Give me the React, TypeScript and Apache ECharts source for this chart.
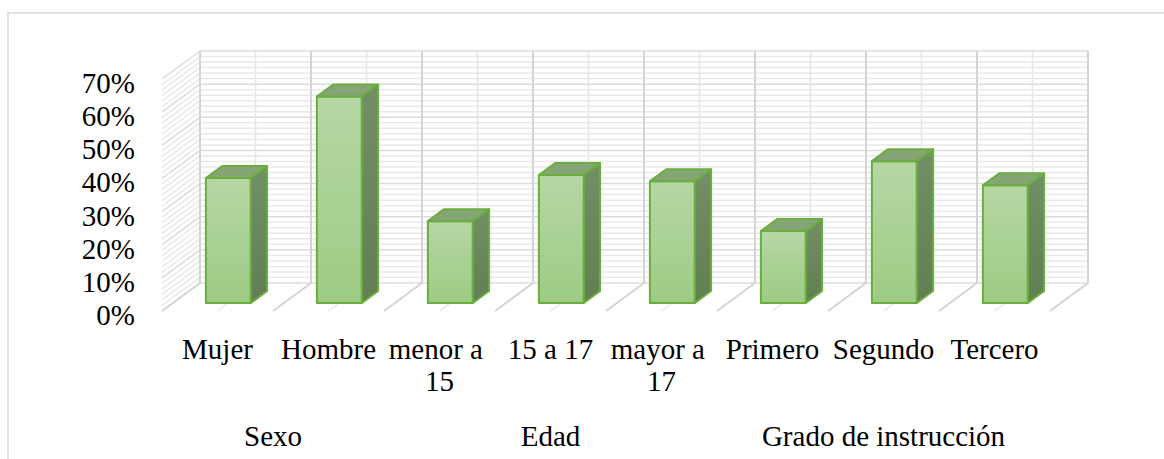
import { useEffect, useRef } from "react";
import * as echarts from "echarts";

const categories = ["Mujer", "Hombre", "menor a 15", "15 a 17", "mayor a 17", "Primero", "Segundo", "Tercero"];
const values = [0.377, 0.623, 0.247, 0.386, 0.367, 0.217, 0.428, 0.355];
const groupNames = ["Sexo", "Edad", "Grado de instrucción"];
const groupStart = [0, 2, 5];
const groupEnd = [1, 4, 7];
const Y_MIN = 0;
const Y_MAX = 0.7;
const Y_STEP = 0.1;
const MINOR_PER_MAJOR = 6;

const FONT = "Liberation Serif";
const DEPTH_X = 38;
const DEPTH_Y = -28;
const FLOOR_DY = -4;
const BAR_D1 = 0.286;
const BAR_D2 = 0.714;
const BAR_W = 0.405;

export default function App() {
  const ref = useRef<HTMLDivElement>(null);
  useEffect(() => {
    document.body.style.margin = "0";
    const chart = echarts.init(ref.current!, undefined, { renderer: "svg" });
    const proj = (x: number, y: number, d: number) => [x + DEPTH_X * d, y + FLOOR_DY + DEPTH_Y * d];

    const wallsRender = (_params: any, api: any) => {
      const c0 = api.coord([0, 0]);
      const bw = api.size([1, 0])[0];
      const left = c0[0] - bw / 2;
      const right = left + categories.length * bw;
      const children: any[] = [];
      const minorStep = Y_STEP / MINOR_PER_MAJOR;
      const count = Math.round((Y_MAX - Y_MIN) / minorStep);
      for (let i = 0; i <= count; i++) {
        const v = Y_MIN + i * minorStep;
        const y = api.coord([0, v])[1];
        const major = i % MINOR_PER_MAJOR === 0;
        const a = proj(left, y, 1);
        const b = proj(right, y, 1);
        const s = proj(left, y, 0);
        const st = { stroke: major ? "#dcdcdc" : "#e9e9e9", lineWidth: 1.5 };
        children.push({ type: "line", shape: { x1: a[0], y1: a[1], x2: b[0], y2: b[1] }, style: st });
        children.push({ type: "line", shape: { x1: s[0], y1: s[1], x2: a[0], y2: a[1] }, style: st });
      }
      const yb = api.coord([0, Y_MIN])[1];
      const yt = api.coord([0, Y_MAX])[1];
      for (let k = 0; k <= categories.length * 2; k++) {
        const x = left + (k * bw) / 2;
        const boundary = k % 2 === 0;
        const st = { stroke: boundary ? "#d4d4d4" : "#e6e6e6", lineWidth: boundary ? 2 : 1.5 };
        const p1 = proj(x, yb, 1);
        const p2 = proj(x, yt, 1);
        const f0 = proj(x, yb, 0);
        children.push({ type: "line", shape: { x1: p1[0], y1: p1[1], x2: p2[0], y2: p2[1] }, style: st });
        children.push({ type: "line", shape: { x1: f0[0], y1: f0[1], x2: p1[0], y2: p1[1] }, style: st });
      }
      return { type: "group", children };
    };

    const barsRender = (_params: any, api: any) => {
      const i = api.value(0);
      const v = api.value(1);
      const top = api.coord([i, v]);
      const base = api.coord([i, 0]);
      const bw = api.size([1, 0])[0];
      const w = bw * BAR_W;
      const xl = top[0] - w / 2;
      const xr = top[0] + w / 2;
      const flb = proj(xl, base[1], BAR_D1);
      const frb = proj(xr, base[1], BAR_D1);
      const flt = proj(xl, top[1], BAR_D1);
      const frt = proj(xr, top[1], BAR_D1);
      const blt = proj(xl, top[1], BAR_D2);
      const brt = proj(xr, top[1], BAR_D2);
      const brb = proj(xr, base[1], BAR_D2);
      const border = { stroke: "#6aae3e", lineWidth: 2, lineJoin: "round" };
      return {
        type: "group",
        children: [
          {
            type: "polygon",
            shape: { points: [flt, frt, frb, flb] },
            style: {
              ...border,
              fill: new echarts.graphic.LinearGradient(0, 0, 0, 1, [
                { offset: 0, color: "#b6d7a4" },
                { offset: 1, color: "#9dcb84" },
              ]),
            },
          },
          { type: "polygon", shape: { points: [flt, frt, brt, blt] }, style: { ...border, fill: "#85a575" } },
          {
            type: "polygon",
            shape: { points: [frt, brt, brb, frb] },
            style: {
              ...border,
              fill: new echarts.graphic.LinearGradient(0, 0, 0, 1, [
                { offset: 0, color: "#738f65" },
                { offset: 1, color: "#617f53" },
              ]),
            },
          },
        ],
      };
    };

    const groupsRender = (params: any, api: any) => {
      const s = api.coord([api.value(0), 0]);
      const e = api.coord([api.value(1), 0]);
      return {
        type: "text",
        x: (s[0] + e[0]) / 2,
        y: s[1] + 121,
        style: {
          text: groupNames[params.dataIndex],
          fill: "#000",
          fontSize: 29,
          fontFamily: FONT,
          align: "center",
          verticalAlign: "middle",
        },
      };
    };

    chart.setOption({
      animation: false,
      backgroundColor: "#fff",
      textStyle: { fontFamily: FONT },
      graphic: [
        {
          type: "rect",
          shape: { x: 8, y: 13, width: 1170, height: 470 },
          style: { fill: "none", stroke: "#d9d9d9", lineWidth: 1.5 },
          silent: true,
        },
      ],
      grid: { left: 162, right: 114, top: 83, bottom: 144 },
      xAxis: {
        type: "category",
        data: categories,
        axisLine: { show: false },
        axisTick: { show: false },
        splitLine: { show: false },
        axisLabel: {
          interval: 0,
          margin: 18,
          fontSize: 29,
          lineHeight: 32,
          fontFamily: FONT,
          color: "#000",
          width: 110,
          overflow: "break",
        },
      },
      yAxis: {
        type: "value",
        min: Y_MIN,
        max: Y_MAX,
        interval: Y_STEP,
        axisLine: { show: false },
        axisTick: { show: false },
        splitLine: { show: false },
        axisLabel: {
          margin: 27,
          fontSize: 29,
          fontFamily: FONT,
          color: "#000",
          formatter: (v: number) => Math.round(v * 100) + "%",
        },
      },
      series: [
        { type: "custom", renderItem: wallsRender, data: [[0, 0]], z: 1, silent: true },
        { type: "custom", renderItem: barsRender, data: categories.map((_, i) => [i, values[i]]), z: 2 },
        { type: "custom", renderItem: groupsRender, data: groupStart.map((s, i) => [s, groupEnd[i]]), z: 3 },
      ],
    });
    return () => chart.dispose();
  }, []);
  return <div ref={ref} style={{ width: 1164, height: 459 }} />;
}
